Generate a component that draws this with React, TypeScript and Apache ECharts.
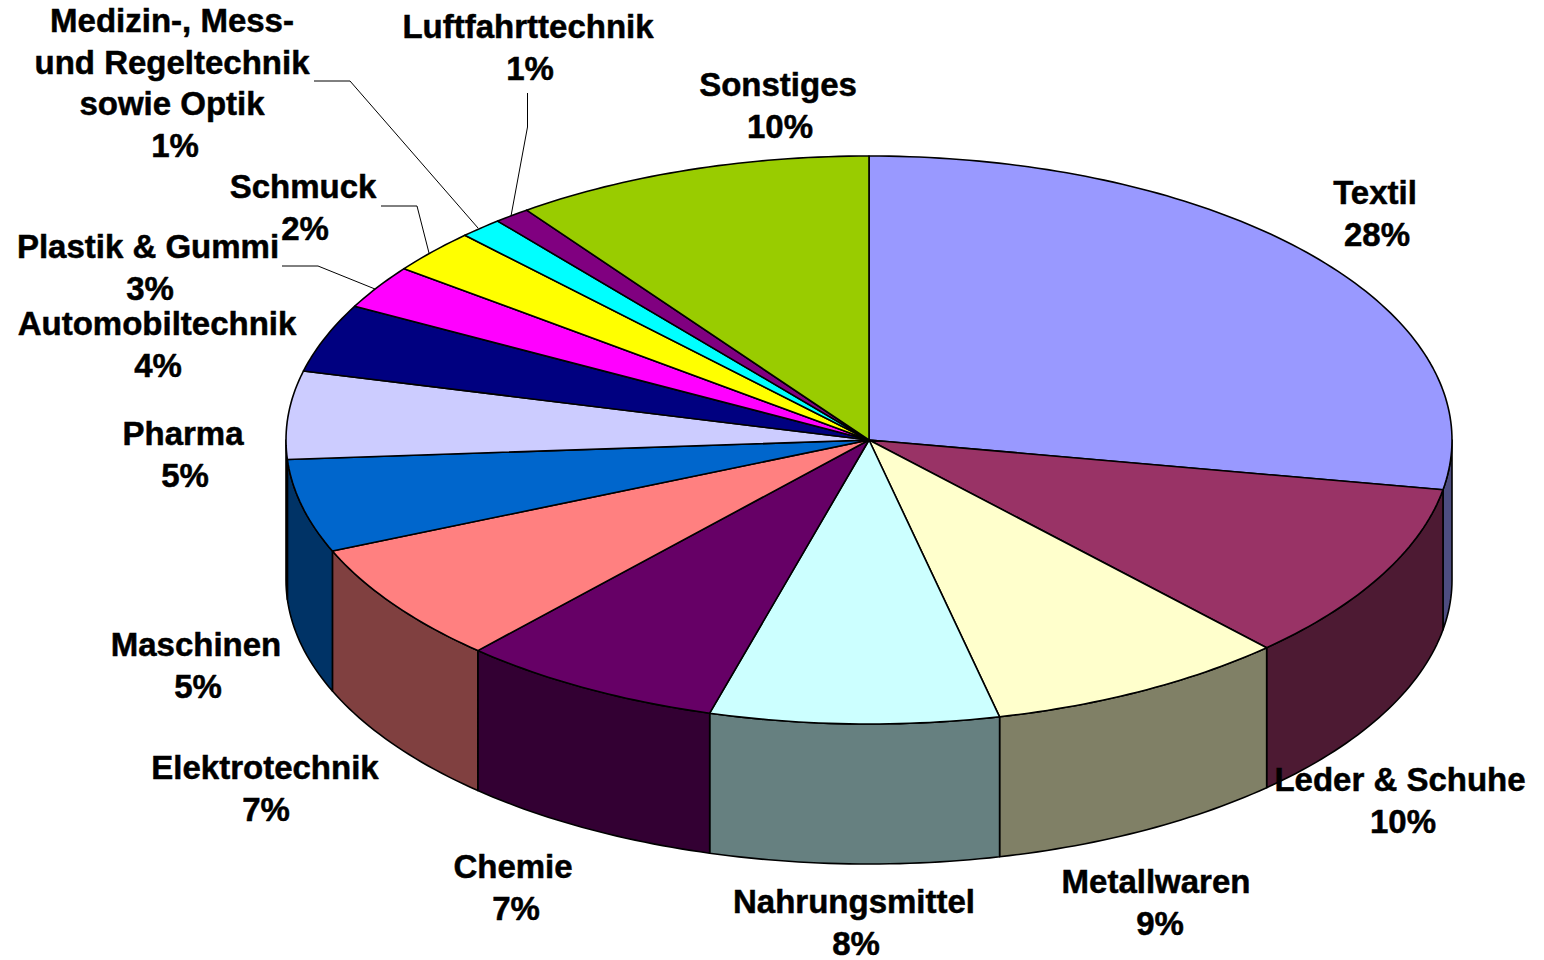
import React, { useEffect, useRef } from "react";
import * as echarts from "echarts";

// Data: share of the full turn, in percent, and the printed labels
const categories = ["Textil", "Leder & Schuhe", "Metallwaren", "Nahrungsmittel", "Chemie", "Elektrotechnik", "Maschinen", "Pharma", "Automobiltechnik", "Plastik & Gummi", "Schmuck", "Medizin-, Mess-\nund Regeltechnik\nsowie Optik", "Luftfahrttechnik", "Sonstiges"];
const shares = [27.8, 10.25, 8.35, 8.0, 7.3, 6.9, 5.3, 5.0, 3.9, 2.5, 2.5, 1.2, 1.0, 9.99];
const percentLabels = ["28%", "10%", "9%", "8%", "7%", "7%", "5%", "5%", "4%", "3%", "2%", "1%", "1%", "10%"];

// Styles and layout
const topColors = ["#9999FF", "#993366", "#FFFFCC", "#CCFFFF", "#660066", "#FF8080", "#0066CC", "#CCCCFF", "#000080", "#FF00FF", "#FFFF00", "#00FFFF", "#800080", "#99CC00"];
const CX = 869, CY = 440, RX = 583, RY = 284, DEPTH = 140;
const FONT = "Liberation Sans";
const FONT_SIZE = 33;
const LINE = 41.5;
// name centre x, first-line centre y, percent centre x
const labelLayout: [number, number, number][] = [
  [1375, 192.5, 1377], [1400, 779.5, 1403], [1156, 881.5, 1160], [854, 901.5, 856], [513, 866.5, 516],
  [265, 767.5, 266], [196, 644.5, 198], [183, 433.5, 185], [157, 323.5, 158], [148, 246.5, 150],
  [303, 186.5, 305], [172, 20.5, 175], [528, 26.5, 530], [778, 84.5, 780],
];
const leaderLines: number[][][] = [
  [[314, 81], [350, 81], [478, 228]],
  [[527.5, 93], [527.5, 127], [511, 216]],
  [[381, 206], [417, 206], [429, 253]],
  [[282, 266], [318, 266], [375, 289]],
];

const total = shares.reduce((a, b) => a + b, 0);
const starts: number[] = [];
shares.reduce((acc, v, i) => { starts[i] = acc; return acc + v; }, 0);
const toAngle = (v: number) => (v / total) * Math.PI * 2;
const pt = (t: number, dy = 0) => [CX + RX * Math.sin(t), CY - RY * Math.cos(t) + dy];
const arc = (a: number, b: number, dy = 0) => {
  const n = Math.max(2, Math.ceil(((b - a) * 180) / Math.PI));
  const out: number[][] = [];
  for (let i = 0; i <= n; i++) out.push(pt(a + ((b - a) * i) / n, dy));
  return out;
};
const halve = (hex: string) => {
  const c = parseInt(hex.slice(1), 16);
  const f = (s: number) => Math.round(((c >> s) & 255) / 2).toString(16).padStart(2, "0");
  return "#" + f(16) + f(8) + f(0);
};

export default function App() {
  const ref = useRef<HTMLDivElement>(null);
  useEffect(() => {
    const chart = echarts.init(ref.current!, undefined, { renderer: "svg" });
    const lineStyle = { stroke: "#000", lineWidth: 1.6, lineJoin: "round" };
    const textStyle = { font: `bold ${FONT_SIZE}px "${FONT}"`, fill: "#000", stroke: "#000", lineWidth: 0.5, align: "center", verticalAlign: "middle" };
    const texts: any[] = [];
    categories.forEach((name, i) => {
      const [nx, ny, px] = labelLayout[i];
      const lines = name.split("\n");
      lines.forEach((l, k) => {
        texts.push({ type: "text", z: 100, x: nx, y: ny + k * LINE, style: { ...textStyle, text: l } });
      });
      texts.push({ type: "text", z: 100, x: px, y: ny + lines.length * LINE, style: { ...textStyle, text: percentLabels[i] } });
    });
    const leaders = leaderLines.map((points) => ({ type: "polyline", z: 90, shape: { points }, style: { stroke: "#000", lineWidth: 1, fill: "none" } }));

    chart.setOption({
      animation: false,
      backgroundColor: "#fff",
      series: [
        {
          type: "custom",
          coordinateSystem: "none",
          z: 1,
          data: shares,
          silent: true,
          renderItem: (p: any) => {
            const i = p.dataIndex;
            const a = Math.max(toAngle(starts[i]), Math.PI / 2);
            const b = Math.min(toAngle(starts[i] + shares[i]), (Math.PI * 3) / 2);
            if (b <= a) return { type: "group", children: [] };
            const points = [...arc(a, b), ...arc(a, b, DEPTH).reverse()];
            return { type: "polygon", shape: { points }, style: { ...lineStyle, fill: halve(topColors[i]) } };
          },
        },
        {
          type: "custom",
          coordinateSystem: "none",
          z: 2,
          data: shares,
          silent: true,
          renderItem: (p: any) => {
            const i = p.dataIndex;
            const a = toAngle(starts[i]);
            const b = toAngle(starts[i] + shares[i]);
            return { type: "polygon", shape: { points: [[CX, CY], ...arc(a, b)] }, style: { ...lineStyle, fill: topColors[i] } };
          },
        },
      ],
      graphic: { elements: [...leaders, ...texts] },
    });
    return () => chart.dispose();
  }, []);
  return <div ref={ref} style={{ position: "fixed", left: 0, top: 0, width: 1544, height: 960 }} />;
}
